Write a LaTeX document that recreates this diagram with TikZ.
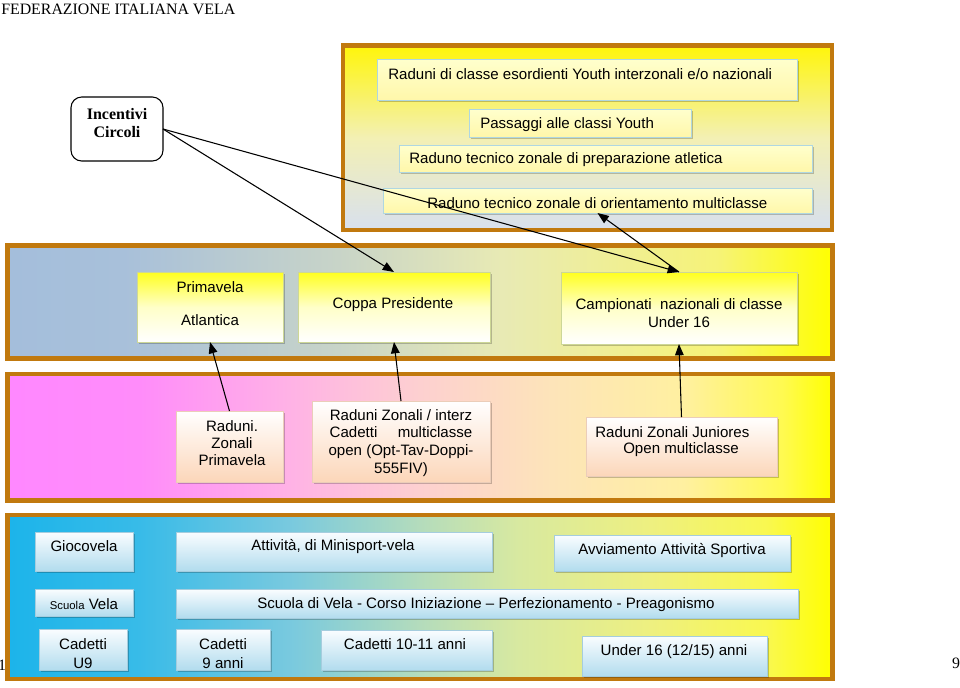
\documentclass[tikz,border=0pt]{standalone}
\usepackage{fontspec}
\setmainfont{Liberation Serif}
\setsansfont{Liberation Sans}
\usetikzlibrary{arrows.meta,shadows}
\definecolor{bordercol}{RGB}{193,121,14}
\definecolor{b2a}{RGB}{164,190,219}
\definecolor{b2b}{RGB}{168,192,218}
\definecolor{b2c}{RGB}{200,212,200}
\definecolor{b2d}{RGB}{232,234,180}
\definecolor{b2e}{RGB}{246,243,120}
\definecolor{b3a}{RGB}{255,136,255}
\definecolor{b3b}{RGB}{255,140,250}
\definecolor{b3c}{RGB}{255,178,230}
\definecolor{b3d}{RGB}{253,208,208}
\definecolor{b3e}{RGB}{253,228,185}
\definecolor{b3f}{RGB}{255,240,160}
\definecolor{b3g}{RGB}{255,250,80}
\definecolor{b4a}{RGB}{28,180,234}
\definecolor{b4b}{RGB}{56,187,232}
\definecolor{b4c}{RGB}{120,201,223}
\definecolor{b4d}{RGB}{180,220,188}
\definecolor{b4e}{RGB}{216,233,160}
\definecolor{b4f}{RGB}{238,240,128}
\definecolor{b4g}{RGB}{249,248,80}
\definecolor{t1top}{RGB}{255,245,10}
\definecolor{t1mid}{RGB}{243,240,180}
\definecolor{t1bot}{RGB}{216,224,238}
\definecolor{tboxtop}{RGB}{255,255,205}
\definecolor{tboxbot}{RGB}{255,247,170}
\definecolor{tboxline}{RGB}{175,215,225}
\definecolor{yboxtop}{RGB}{255,255,30}
\definecolor{yboxmid}{RGB}{255,255,200}
\definecolor{yboxline}{RGB}{205,215,150}
\definecolor{pboxbot}{RGB}{252,214,185}
\definecolor{pboxline}{RGB}{235,205,185}
\definecolor{bboxtop}{RGB}{250,253,255}
\definecolor{bboxbot}{RGB}{178,220,238}
\definecolor{bboxline}{RGB}{165,205,222}
\pgfdeclarehorizontalshading{bandtwo}{100bp}{color(0bp)=(b2a); color(25bp)=(b2a); color(32bp)=(b2b); color(45bp)=(b2c); color(55bp)=(b2d); color(68bp)=(b2e); color(75bp)=(yellow); color(100bp)=(yellow)}
\pgfdeclarehorizontalshading{bandthree}{100bp}{color(0bp)=(b3a); color(25bp)=(b3a); color(33bp)=(b3b); color(42bp)=(b3c); color(50bp)=(b3d); color(58bp)=(b3e); color(66bp)=(b3f); color(72bp)=(b3g); color(75bp)=(yellow); color(100bp)=(yellow)}
\pgfdeclarehorizontalshading{bandfour}{100bp}{color(0bp)=(b4a); color(25bp)=(b4a); color(33bp)=(b4b); color(42bp)=(b4c); color(50bp)=(b4d); color(56bp)=(b4e); color(64bp)=(b4f); color(71bp)=(b4g); color(75bp)=(yellow); color(100bp)=(yellow)}
\newcommand\mkbox[6]{\node[#1, minimum width={(#5-#3)*0.75pt}, minimum height={(#6-#4)*0.75pt}] (#2) at ({(#3+#5)/2},{(#4+#6)/2}) {};}
\tikzset{
  bandline/.style={draw=bordercol, line width=3.6pt},
  boxbase/.style={rectangle, inner sep=0pt, outer sep=0pt, line width=0.6pt,
    drop shadow={shadow xshift=1.8pt, shadow yshift=-1.8pt, opacity=0.22, fill=black}},
  tbox/.style={boxbase, draw=tboxline, top color=tboxtop, bottom color=tboxbot},
  ybox/.style={boxbase, draw=yboxline, top color=yboxtop, bottom color=white, middle color=yboxmid},
  pbox/.style={boxbase, draw=pboxline, top color=white, bottom color=pboxbot},
  bbox/.style={boxbase, draw=bboxline, top color=bboxtop, bottom color=bboxbot},
  incbox/.style={rectangle, rounded corners=8pt, draw=black, line width=0.8pt, fill=white, inner sep=0pt, outer sep=0pt},
  txt/.style={font=\sffamily\fontsize{11.3}{12.75}\selectfont, inner sep=0pt, align=center, text=black, yshift=-1pt},
  serif/.style={font=\rmfamily\fontsize{11.9}{13.5}\selectfont, inner sep=0pt, align=center, text=black},
  arr/.style={-{Triangle[length=8.5pt,width=6.5pt]}, line width=0.8pt, black},
}
\begin{document}
\begin{tikzpicture}[x=0.75pt,y=-0.75pt]
\useasboundingbox (0,0) rectangle (960,687);
\fill[white] (0,0) rectangle (960,687);
% header and page marks
\node[serif, anchor=base west] (hdr) at (1,14) {FEDERAZIONE ITALIANA VELA};
\node[serif] (pgone) at (2,665) {1};
\node[serif] (pgnine) at (956,663) {9};
% bands
\path[bandline, top color=t1top, bottom color=t1bot, middle color=t1mid] (343,45.5) rectangle (832,230);
\path[bandline, shade, shading=bandtwo] (7.5,245.5) rectangle (832.5,358.5);
\path[bandline, shade, shading=bandthree] (7.5,374) rectangle (832.5,500.5);
\path[bandline, shade, shading=bandfour] (7.5,515) rectangle (832.5,679);
% Incentivi
\mkbox{incbox}{inc}{71}{97}{163}{161}
\node[serif, font=\rmfamily\bfseries\fontsize{12}{13.5}\selectfont] (tinc) at (117,123) {Incentivi\\Circoli};
% top band boxes
\mkbox{tbox}{b1}{377}{59}{797}{100}
\mkbox{tbox}{b2}{469}{109}{691}{137}
\mkbox{tbox}{b3}{399}{145}{812}{172}
\mkbox{tbox}{b4}{383}{188}{812}{213}
\node[txt, anchor=west] (t1) at (388,73) {Raduni di classe esordienti Youth interzonali e/o nazionali};
\node[txt, anchor=west] (t2) at (480,123) {Passaggi alle classi Youth};
\node[txt, anchor=west] (t3) at (409,158) {Raduno tecnico zonale di preparazione atletica};
\node[txt, anchor=west] (t4) at (427,202) {Raduno tecnico zonale di orientamento multiclasse};
% band 2
\mkbox{ybox}{prim}{137}{272}{283}{342}
\mkbox{ybox}{coppa}{298}{272}{490}{342}
\mkbox{ybox}{camp}{561}{272}{797}{344}
\node[txt] (t5) at (210,286) {Primavela};
\node[txt] (t6) at (210,319) {Atlantica};
\node[txt] (t7) at (393,303) {Coppa Presidente};
\node[txt, font=\sffamily\fontsize{11.3}{13.5}\selectfont] (t8) at (679,312) {Campionati\ \ nazionali di classe\\Under 16};
% band 3
\mkbox{pbox}{rzp}{176}{411}{283}{482}
\mkbox{pbox}{rzi}{312}{401}{490}{482}
\mkbox{pbox}{rzj}{586}{417}{777}{476}
\node[txt] (t9) at (232,442) {Raduni.\\Zonali\\Primavela};
\node[txt, font=\sffamily\fontsize{11.3}{13.3}\selectfont] (t10) at (401,441.5) {Raduni Zonali / interz\\\makebox[107pt][s]{Cadetti\hfill multiclasse}\\open (Opt-Tav-Doppi-\\555FIV)};
\node[txt, anchor=west] (t11) at (595,431) {Raduni Zonali Juniores};
\node[txt, anchor=west] (t11b) at (623,448) {Open multiclasse};
% band 4
\mkbox{bbox}{gio}{35}{532}{133}{571}
\mkbox{bbox}{mini}{176}{532}{492}{571}
\mkbox{bbox}{avv}{554}{535}{790}{571}
\mkbox{bbox}{sv}{35}{589}{133}{616}
\mkbox{bbox}{sdv}{176}{589}{798}{618}
\mkbox{bbox}{cu9}{39}{629}{127}{670}
\mkbox{bbox}{c9}{176}{629}{270}{670}
\mkbox{bbox}{c1011}{321}{630}{492}{670}
\mkbox{bbox}{u16}{582}{636}{767}{676}
\node[txt] (t12) at (84,545) {Giocovela};
\node[txt] (t13) at (333,545) {Attività, di Minisport-vela};
\node[txt] (t14) at (672,549) {Avviamento Attività Sportiva};
\node[txt] (t15) at (84,603) {{\fontsize{8.5}{10}\selectfont Scuola} Vela};
\node[txt] (t16) at (486,603) {Scuola di Vela - Corso Iniziazione – Perfezionamento - Preagonismo};
\node[txt, font=\sffamily\fontsize{11.3}{14.25}\selectfont] (t17) at (83,652.5) {Cadetti\\U9};
\node[txt, font=\sffamily\fontsize{11.3}{14.25}\selectfont] (t18) at (223,652.5) {Cadetti\\9 anni};
\node[txt] (t19) at (405,643) {Cadetti 10-11 anni};
\node[txt] (t20) at (674,650) {Under 16 (12/15) anni};
% connectors
\draw[arr] (inc.east) -- (coppa.north);
\draw[arr] (inc.east) -- (camp.north);
\draw[arr] (camp.north) -- (b4.south);
\draw[arr] (rzp.north) -- (prim.south);
\draw[arr] (rzi.north) -- (coppa.south);
\draw[arr] (rzj.north) -- (camp.south);
\end{tikzpicture}
\end{document}
